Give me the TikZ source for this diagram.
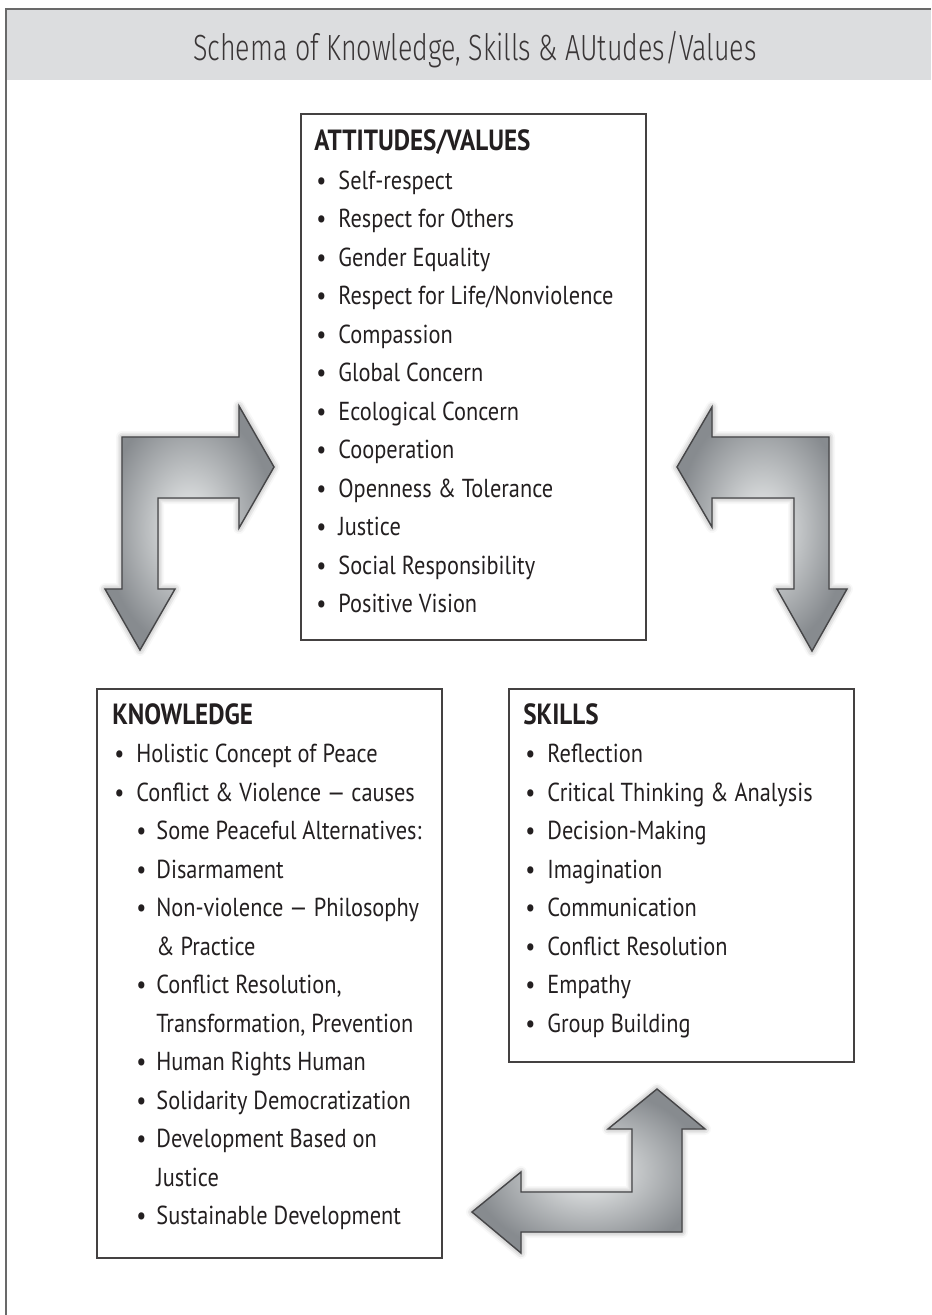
\documentclass[tikz,border=0pt]{standalone}
\usepackage{fontspec}
\setmainfont{PT Sans}[FakeStretch=0.86]
\newfontfamily\titlefont{Fira Sans Light}[FakeStretch=0.737]
\usepackage{tikz}
\usetikzlibrary{shadows.blur}

\definecolor{bandgray}{RGB}{220,221,223}
\definecolor{framegray}{RGB}{105,105,105}
\definecolor{inkgray}{RGB}{35,31,32}
\definecolor{arrowlight}{RGB}{240,242,242}
\definecolor{arrowdark}{RGB}{135,139,143}
\definecolor{arrowedge}{RGB}{70,70,72}

\tikzset{
    panel/.style={draw=inkgray!85, line width=0.9pt, inner sep=0pt},
    listtext/.style={anchor=base west, inner sep=0pt, text=inkgray},
    bigarrow/.style={inner color=arrowlight, outer color=arrowdark, draw=arrowedge,
        line width=0.7pt, line join=miter,
        blur shadow={shadow xshift=0pt, shadow yshift=0pt, shadow blur radius=3pt, shadow opacity=45}}
}

\newcommand{\plist}[1]{\parbox[t]{180pt}{\fontsize{13}{19.25}\selectfont #1}}
\newcommand{\phead}[1]{{\bfseries\fontsize{14.6}{19.25}\selectfont #1}}
\newcommand{\pitem}[1]{\hspace*{1pt}\makebox[11pt][l]{\textbullet}#1}
\newcommand{\psub}[1]{\hspace*{12pt}\makebox[10pt][l]{\textbullet}#1}
\newcommand{\pcont}[1]{\hspace*{22pt}#1}

\begin{document}
\begin{tikzpicture}[x=0.5pt, y=-0.5pt]
        \useasboundingbox (0,0) rectangle (931,1315);
        % title band and frame
        \fill[bandgray] (6,9) rectangle (931,80);
        \draw[framegray, line width=0.9pt] (931,9) -- (6,9) -- (6,1315);
        \node[anchor=base, inner sep=0pt, text=inkgray!90, font=\titlefont\fontsize{18.2}{20}\selectfont] (title) at (475,61) {Schema of Knowledge, Skills \& AUtudes/Values};

        % boxes
        \node[panel, minimum width=172.5pt, minimum height=263pt] (att) at (473.5,377) {};
        \node[panel, minimum width=172.5pt, minimum height=284.5pt] (know) at (269.5,973.5) {};
        \node[panel, minimum width=172.5pt, minimum height=186.5pt] (skill) at (681.5,875.5) {};

        \node[listtext] (atttext) at (314,151) {\plist{\phead{ATTITUDES/VALUES}\\
            \pitem{Self-respect}\\
            \pitem{Respect for Others}\\
            \pitem{Gender Equality}\\
            \pitem{Respect for Life/Nonviolence}\\
            \pitem{Compassion}\\
            \pitem{Global Concern}\\
            \pitem{Ecological Concern}\\
            \pitem{Cooperation}\\
            \pitem{Openness \& Tolerance}\\
            \pitem{Justice}\\
            \pitem{Social Responsibility}\\
            \pitem{Positive Vision}}};

        \node[listtext] (knowtext) at (112,724) {\plist{\phead{KNOWLEDGE}\\
            \pitem{Holistic Concept of Peace}\\
            \pitem{Conflict \& Violence --- causes}\\
            \psub{Some Peaceful Alternatives:}\\
            \psub{Disarmament}\\
            \psub{Non-violence --- Philosophy}\\
            \pcont{\& Practice}\\
            \psub{Conflict Resolution,}\\
            \pcont{Transformation, Prevention}\\
            \psub{Human Rights Human}\\
            \psub{Solidarity Democratization}\\
            \psub{Development Based on}\\
            \pcont{Justice}\\
            \psub{Sustainable Development}}};

        \node[listtext] (skilltext) at (523,724) {\plist{\phead{SKILLS}\\
            \pitem{Reflection}\\
            \pitem{Critical Thinking \& Analysis}\\
            \pitem{Decision-Making}\\
            \pitem{Imagination}\\
            \pitem{Communication}\\
            \pitem{Conflict Resolution}\\
            \pitem{Empathy}\\
            \pitem{Group Building}}};

        % block arrows
        \shade[bigarrow] (122,437) -- (239,437) -- (239,406) -- (274,467) -- (239,528) -- (239,498)
            -- (158,498) -- (158,589) -- (175,589) -- (140,650) -- (105,589) -- (122,589) -- cycle;
        \shade[bigarrow] (829,437) -- (712,437) -- (712,407) -- (677,467) -- (712,527) -- (712,498)
            -- (794,498) -- (794,589) -- (777,589) -- (812,651) -- (847,589) -- (829,589) -- cycle;
        \shade[bigarrow] (682,1232) -- (521,1232) -- (521,1253) -- (472,1212) -- (521,1172) -- (521,1192)
            -- (632,1192) -- (632,1129) -- (608,1129) -- (657,1089) -- (705,1129) -- (682,1129) -- cycle;
\end{tikzpicture}
\end{document}
